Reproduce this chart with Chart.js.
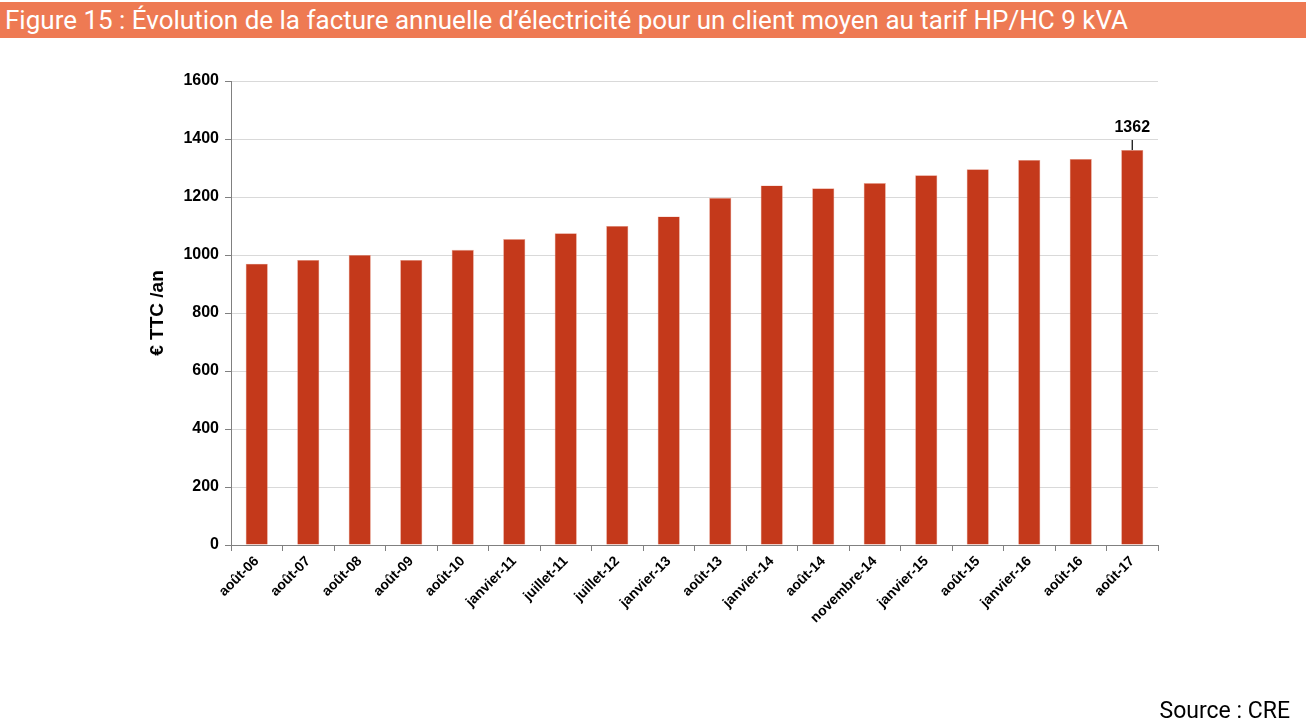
<!DOCTYPE html>
<html>
<head>
<meta charset="utf-8">
<script src="https://cdn.jsdelivr.net/npm/chart.js@4"></script>
<style>
    body { margin: 0; background: #fff; width: 1306px; height: 726px; overflow: hidden; position: relative; }
    #title {
        position: absolute; left: 0; top: 2px; width: 1306px; height: 36px;
        background: #ee7a53; color: #fff;
        font-family: "Roboto", sans-serif; font-size: 26px;
        line-height: 36px; padding-left: 5px; box-sizing: border-box; white-space: nowrap;
    }
    #source {
        position: absolute; right: 16px; top: 697px;
        font-family: "Roboto", sans-serif; font-size: 23px; color: #000;
    }
    #wrap { position: absolute; left: 0; top: 0; width: 1306px; height: 726px; }
</style>
</head>
<body>
<div id="wrap"><canvas id="factureChart"></canvas></div>
<div id="title">Figure 15 : Évolution de la facture annuelle d’électricité pour un client moyen au tarif HP/HC 9 kVA</div>
<div id="source">Source : CRE</div>
<script>
// periods and annual bill (€ TTC / an)
const periods = ['août-06', 'août-07', 'août-08', 'août-09', 'août-10', 'janvier-11', 'juillet-11', 'juillet-12',
    'janvier-13', 'août-13', 'janvier-14', 'août-14', 'novembre-14', 'janvier-15', 'août-15', 'janvier-16',
    'août-16', 'août-17'];
const factureValues = [970, 983, 1000, 983, 1018, 1055, 1075, 1100, 1133, 1197, 1240, 1230, 1248, 1275, 1296, 1328, 1331, 1362];
const yTicks = [0, 200, 400, 600, 800, 1000, 1200, 1400, 1600];

const axisFont = 'Arial, "Liberation Sans", sans-serif';

// label with a small leader line above the last bar
const lastLabel = {
    id: 'lastLabel',
    afterDatasetsDraw(chart) {
        const ctx = chart.ctx;
        const meta = chart.getDatasetMeta(0);
        const i = factureValues.length - 1;
        const bar = meta.data[i];
        ctx.save();
        ctx.strokeStyle = '#000';
        ctx.lineWidth = 1.2;
        ctx.beginPath();
        ctx.moveTo(bar.x, bar.y);
        ctx.lineTo(bar.x, bar.y - 10);
        ctx.stroke();
        ctx.fillStyle = '#000';
        ctx.font = 'bold 16px ' + axisFont;
        ctx.textAlign = 'center';
        ctx.textBaseline = 'bottom';
        ctx.fillText(String(factureValues[i]), bar.x, bar.y - 14);
        ctx.restore();
    }
};

const ctx = document.getElementById('factureChart').getContext('2d');
new Chart(ctx, {
    type: 'bar',
    data: {
        labels: periods,
        datasets: [{
            label: 'Facture',
            data: factureValues,
            backgroundColor: '#c4391b',
            borderColor: '#e9a08e',
            borderWidth: 0.6,
            barPercentage: 0.43,
            categoryPercentage: 1
        }]
    },
    options: {
        responsive: true,
        maintainAspectRatio: false,
        animation: false,
        layout: { padding: { left: 146, top: 81, right: 148, bottom: 0 } },
        plugins: {
            legend: { display: false },
            tooltip: { enabled: false }
        },
        scales: {
            x: {
                grid: { display: true, drawOnChartArea: false, offset: true, tickLength: 6, color: '#808080' },
                border: { color: '#808080' },
                ticks: {
                    color: '#000',
                    font: { family: axisFont, size: 14, weight: 'bold' },
                    maxRotation: 45, minRotation: 45, autoSkip: false, padding: 2
                },
                afterFit(scale) { scale.height = 181; }
            },
            y: {
                min: 0, max: 1600,
                afterBuildTicks(scale) { scale.ticks = yTicks.map(v => ({ value: v })); },
                grid: { color: '#d9d9d9', tickColor: '#808080', tickLength: 6 },
                border: { color: '#808080' },
                ticks: {
                    color: '#000',
                    font: { family: axisFont, size: 16, weight: 'bold' },
                    padding: 6,
                    callback: v => String(v)
                },
                title: {
                    display: true, text: '€ TTC /an', color: '#000',
                    font: { family: axisFont, size: 19, weight: 'bold' },
                    padding: 0
                },
                afterFit(scale) { scale.width = 85; }
            }
        }
    },
    plugins: [lastLabel]
});
</script>
</body>
</html>
